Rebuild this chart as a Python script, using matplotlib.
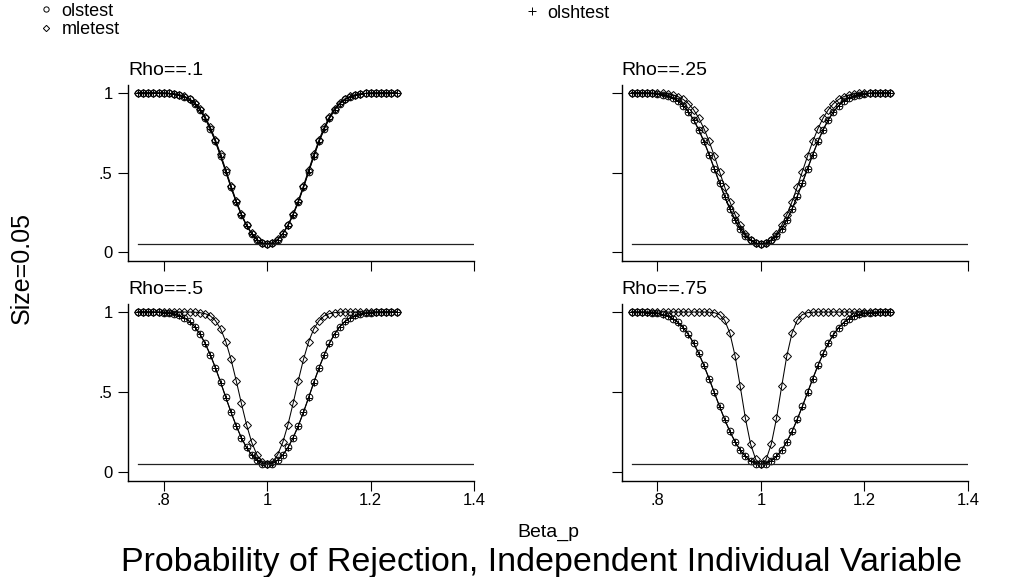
import numpy as np
import matplotlib
matplotlib.use('Agg')
import matplotlib.pyplot as plt
from matplotlib.lines import Line2D

plt.rcParams['font.family'] = ['Liberation Sans', 'DejaVu Sans']

# beta_p grid used in the simulation
beta = np.round(np.arange(0.75, 1.2501, 0.01), 2)
size = 0.05
size_span = [0.75, 1.4]

rho_labels = ['Rho==.1', 'Rho==.25', 'Rho==.5', 'Rho==.75']

# rejection rates, one list per test and rho
ols_rho10 = [1.000, 1.000, 1.000, 1.000, 0.999, 0.999, 0.997, 0.994, 0.987, 0.977, 0.959, 0.933, 0.894,
             0.842, 0.775, 0.695, 0.603, 0.506, 0.408, 0.316, 0.235, 0.167, 0.115, 0.078, 0.057, 0.050,
             0.057, 0.078, 0.115, 0.167, 0.235, 0.316, 0.408, 0.506, 0.603, 0.695, 0.775, 0.842, 0.894,
             0.933, 0.959, 0.977, 0.987, 0.994, 0.997, 0.999, 0.999, 1.000, 1.000, 1.000, 1.000]
olsh_rho10 = [1.000, 1.000, 1.000, 1.000, 0.999, 0.999, 0.997, 0.993, 0.986, 0.976, 0.957, 0.931, 0.891,
              0.839, 0.772, 0.692, 0.600, 0.503, 0.405, 0.313, 0.233, 0.166, 0.114, 0.078, 0.057, 0.050,
              0.057, 0.078, 0.114, 0.166, 0.233, 0.313, 0.405, 0.503, 0.600, 0.692, 0.772, 0.839, 0.891,
              0.931, 0.957, 0.976, 0.986, 0.993, 0.997, 0.999, 0.999, 1.000, 1.000, 1.000, 1.000]
mle_rho10 = [1.000, 1.000, 1.000, 1.000, 1.000, 0.999, 0.997, 0.995, 0.989, 0.979, 0.963, 0.938, 0.902,
             0.851, 0.785, 0.705, 0.614, 0.516, 0.417, 0.323, 0.240, 0.170, 0.117, 0.079, 0.057, 0.050,
             0.057, 0.079, 0.117, 0.170, 0.240, 0.323, 0.417, 0.516, 0.614, 0.705, 0.785, 0.851, 0.902,
             0.938, 0.963, 0.979, 0.989, 0.995, 0.997, 0.999, 1.000, 1.000, 1.000, 1.000, 1.000]

ols_rho25 = [1.000, 1.000, 0.999, 0.999, 0.997, 0.994, 0.990, 0.982, 0.969, 0.949, 0.921, 0.882, 0.832,
             0.769, 0.696, 0.613, 0.525, 0.436, 0.350, 0.271, 0.203, 0.147, 0.103, 0.073, 0.056, 0.050,
             0.056, 0.073, 0.103, 0.147, 0.203, 0.271, 0.350, 0.436, 0.525, 0.613, 0.696, 0.769, 0.832,
             0.882, 0.921, 0.949, 0.969, 0.982, 0.990, 0.994, 0.997, 0.999, 0.999, 1.000, 1.000]
olsh_rho25 = [1.000, 1.000, 0.999, 0.999, 0.997, 0.994, 0.989, 0.981, 0.968, 0.948, 0.919, 0.880, 0.829,
              0.766, 0.693, 0.610, 0.522, 0.433, 0.348, 0.269, 0.202, 0.146, 0.103, 0.073, 0.056, 0.050,
              0.056, 0.073, 0.103, 0.146, 0.202, 0.269, 0.348, 0.433, 0.522, 0.610, 0.693, 0.766, 0.829,
              0.880, 0.919, 0.948, 0.968, 0.981, 0.989, 0.994, 0.997, 0.999, 0.999, 1.000, 1.000]
mle_rho25 = [1.000, 1.000, 1.000, 1.000, 0.999, 0.999, 0.997, 0.994, 0.987, 0.977, 0.959, 0.933, 0.894,
             0.842, 0.775, 0.695, 0.603, 0.506, 0.408, 0.316, 0.235, 0.167, 0.115, 0.078, 0.057, 0.050,
             0.057, 0.078, 0.115, 0.167, 0.235, 0.316, 0.408, 0.506, 0.603, 0.695, 0.775, 0.842, 0.894,
             0.933, 0.959, 0.977, 0.987, 0.994, 0.997, 0.999, 0.999, 1.000, 1.000, 1.000, 1.000]

ols_rho50 = [1.000, 1.000, 1.000, 0.999, 0.999, 0.997, 0.994, 0.989, 0.979, 0.965, 0.942, 0.909, 0.864,
             0.806, 0.735, 0.653, 0.563, 0.469, 0.377, 0.292, 0.217, 0.156, 0.109, 0.076, 0.056, 0.050,
             0.056, 0.076, 0.109, 0.156, 0.217, 0.292, 0.377, 0.469, 0.563, 0.653, 0.735, 0.806, 0.864,
             0.909, 0.942, 0.965, 0.979, 0.989, 0.994, 0.997, 0.999, 0.999, 1.000, 1.000, 1.000]
olsh_rho50 = [1.000, 1.000, 1.000, 0.999, 0.999, 0.997, 0.994, 0.988, 0.978, 0.963, 0.940, 0.907, 0.861,
              0.803, 0.732, 0.650, 0.560, 0.466, 0.375, 0.290, 0.216, 0.155, 0.108, 0.076, 0.056, 0.050,
              0.056, 0.076, 0.108, 0.155, 0.216, 0.290, 0.375, 0.466, 0.560, 0.650, 0.732, 0.803, 0.861,
              0.907, 0.940, 0.963, 0.978, 0.988, 0.994, 0.997, 0.999, 0.999, 1.000, 1.000, 1.000]
mle_rho50 = [1.000, 1.000, 1.000, 1.000, 1.000, 1.000, 1.000, 1.000, 1.000, 1.000, 1.000, 0.999, 0.996,
             0.990, 0.976, 0.946, 0.895, 0.815, 0.705, 0.573, 0.431, 0.298, 0.188, 0.110, 0.065, 0.050,
             0.065, 0.110, 0.188, 0.298, 0.431, 0.573, 0.705, 0.815, 0.895, 0.946, 0.976, 0.990, 0.996,
             0.999, 1.000, 1.000, 1.000, 1.000, 1.000, 1.000, 1.000, 1.000, 1.000, 1.000, 1.000]

ols_rho75 = [1.000, 0.999, 0.999, 0.998, 0.995, 0.992, 0.985, 0.975, 0.959, 0.936, 0.903, 0.861, 0.807,
             0.742, 0.667, 0.585, 0.499, 0.413, 0.331, 0.256, 0.192, 0.140, 0.100, 0.072, 0.055, 0.050,
             0.055, 0.072, 0.100, 0.140, 0.192, 0.256, 0.331, 0.413, 0.499, 0.585, 0.667, 0.742, 0.807,
             0.861, 0.903, 0.936, 0.959, 0.975, 0.985, 0.992, 0.995, 0.998, 0.999, 0.999, 1.000]
olsh_rho75 = [1.000, 0.999, 0.999, 0.997, 0.995, 0.991, 0.984, 0.974, 0.957, 0.934, 0.901, 0.858, 0.804,
              0.739, 0.664, 0.582, 0.496, 0.411, 0.329, 0.255, 0.191, 0.139, 0.100, 0.072, 0.055, 0.050,
              0.055, 0.072, 0.100, 0.139, 0.191, 0.255, 0.329, 0.411, 0.496, 0.582, 0.664, 0.739, 0.804,
              0.858, 0.901, 0.934, 0.957, 0.974, 0.984, 0.991, 0.995, 0.997, 0.999, 0.999, 1.000]
mle_rho75 = [1.000, 1.000, 1.000, 1.000, 1.000, 1.000, 1.000, 1.000, 1.000, 1.000, 1.000, 1.000, 1.000,
             1.000, 1.000, 0.999, 0.996, 0.984, 0.948, 0.868, 0.727, 0.536, 0.337, 0.177, 0.081, 0.050,
             0.081, 0.177, 0.337, 0.536, 0.727, 0.868, 0.948, 0.984, 0.996, 0.999, 1.000, 1.000, 1.000,
             1.000, 1.000, 1.000, 1.000, 1.000, 1.000, 1.000, 1.000, 1.000, 1.000, 1.000, 1.000]

panels = [(ols_rho10, olsh_rho10, mle_rho10), (ols_rho25, olsh_rho25, mle_rho25),
          (ols_rho50, olsh_rho50, mle_rho50), (ols_rho75, olsh_rho75, mle_rho75)]

W, H = 1033, 577
fig = plt.figure(figsize=(W / 100, H / 100), dpi=100)

lefts = [128 / W, 621.7 / W]
bottoms = [1 - 260.5 / H, 1 - 481 / H]
heights = [175.5 / H, 177 / H]
width = 346.3 / W

mk = dict(color='black', linewidth=0.75, markerfacecolor='none', markeredgecolor='black',
          markeredgewidth=0.7)

for i, (ols, olsh, mle) in enumerate(panels):
    r, c = divmod(i, 2)
    ax = fig.add_axes([lefts[c], bottoms[r], width, heights[r]])
    ax.plot(beta, ols, marker='o', markersize=4.8, **mk)
    ax.plot(beta, olsh, marker='+', markersize=4.8, **mk)
    ax.plot(beta, mle, marker='D', markersize=4.0, **mk)
    ax.plot(size_span, [size, size], color='#222222', linewidth=0.9)

    ax.set_xlim(0.731, 1.4)
    ax.set_ylim(-0.053, 1.05)
    for s in ['top', 'right']:
        ax.spines[s].set_visible(False)
    for s in ['left', 'bottom']:
        ax.spines[s].set_linewidth(1.0)
    ax.set_xticks([0.8, 1.0, 1.2, 1.4])
    ax.set_yticks([0, 0.5, 1])
    ax.tick_params(direction='out', length=7, width=0.8, labelsize=12)
    ax.tick_params(axis='x', pad=1.5)
    ax.tick_params(axis='y', pad=4)
    if r == 1:
        ax.set_xticklabels(['.8', '1', '1.2', '1.4'])
    else:
        ax.set_xticklabels([])
    if c == 0:
        ax.set_yticklabels(['0', '.5', '1'])
    else:
        ax.set_yticklabels([])
    ax.set_title(rho_labels[i], loc='left', fontsize=14, pad=7)

# legend keys, one small legend per entry
legend_specs = [('o', 3.8, 'olstest', 40, 11), ('D', 3.2, 'mletest', 40, 30), ('+', 6.0, 'olshtest', 526, 13)]
for marker, ms, label, lx, ly in legend_specs:
    h = Line2D([], [], linestyle='none', marker=marker, markersize=ms, markerfacecolor='none',
               markeredgecolor='black', markeredgewidth=0.7)
    fig.legend([h], [label], loc='center left', bbox_to_anchor=(lx / W, 1 - ly / H), frameon=False,
               fontsize=13, handlelength=0.7, handletextpad=0.5, borderaxespad=0, borderpad=0)

fig.text(22 / W, 1 - 268 / H, 'Size=0.05', rotation=90, ha='center', va='center', fontsize=18)
fig.text(548 / W, 1 - 537 / H, 'Beta_p', ha='center', va='baseline', fontsize=14)
fig.text(542 / W, 1 - 571 / H, 'Probability of Rejection, Independent Individual Variable',
         ha='center', va='baseline', fontsize=24.5)

fig.savefig('out.png', dpi=100)
